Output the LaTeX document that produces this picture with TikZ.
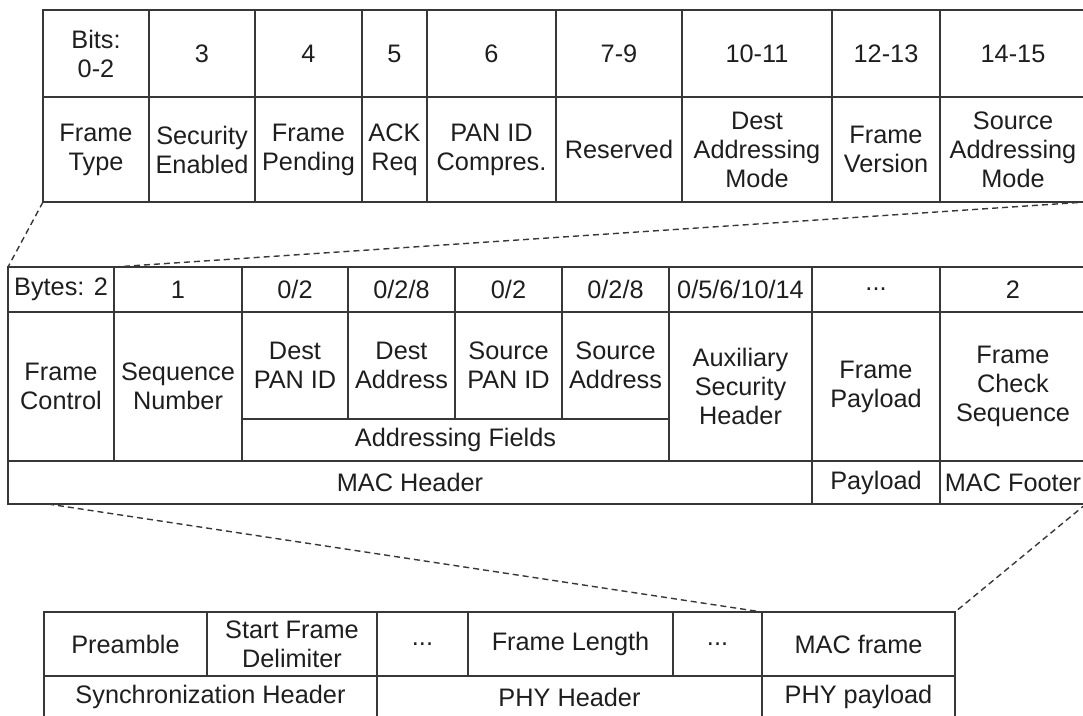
\documentclass[tikz,border=0pt]{standalone}
\usepackage{fontspec}
\setmainfont{Liberation Sans}
\usepackage{tikz}
\definecolor{linegray}{RGB}{55, 55, 55}
\definecolor{textdark}{RGB}{30, 30, 30}
\tikzset{
    field/.style={draw=linegray, line width=1.6pt, rectangle, inner sep=0pt, outer sep=0pt, align=center, text=textdark, font=\fontsize{25.3}{29}\selectfont},
    zoomline/.style={draw=linegray, line width=1.4pt, dash pattern=on 6pt off 4pt},
}

\begin{document}
\begin{tikzpicture}[x=1pt, y=-1pt]
    \useasboundingbox (0,0) rectangle (1083,715);
    \clip (0,0) rectangle (1083,715);

    % Frame control: bit numbers
    \node[field, minimum width=106, minimum height=87] (bit02) at (96,53.5) {Bits:\\0-2};
    \node[field, minimum width=106, minimum height=87] (bit3) at (202,53.5) {3};
    \node[field, minimum width=107, minimum height=87] (bit4) at (308.5,53.5) {4};
    \node[field, minimum width=65, minimum height=87] (bit5) at (394.5,53.5) {5};
    \node[field, minimum width=129, minimum height=87] (bit6) at (491.5,53.5) {6};
    \node[field, minimum width=126, minimum height=87] (bit79) at (619,53.5) {7-9};
    \node[field, minimum width=150, minimum height=87] (bit1011) at (757,53.5) {10-11};
    \node[field, minimum width=108, minimum height=87] (bit1213) at (886,53.5) {12-13};
    \node[field, minimum width=146, minimum height=87] (bit1415) at (1013,53.5) {14-15};

    % Frame control: subfields
    \node[field, minimum width=106, minimum height=105] (ftype) at (96,149.5) {Frame\\Type};
    \node[field, minimum width=106, minimum height=105] (secen) at (202,149.5) {Security\\Enabled};
    \node[field, minimum width=107, minimum height=105] (fpend) at (308.5,149.5) {Frame\\Pending};
    \node[field, minimum width=65, minimum height=105] (ackreq) at (394.5,149.5) {ACK\\Req};
    \node[field, minimum width=129, minimum height=105] (panc) at (491.5,149.5) {PAN ID\\Compres.};
    \node[field, minimum width=126, minimum height=105] (resvd) at (619,149.5) {Reserved};
    \node[field, minimum width=150, minimum height=105] (dmode) at (757,149.5) {Dest\\Addressing\\Mode};
    \node[field, minimum width=108, minimum height=105] (fver) at (886,149.5) {Frame\\Version};
    \node[field, minimum width=146, minimum height=105] (smode) at (1013,149.5) {Source\\Addressing\\Mode};

    % MAC frame: byte counts
    \node[field, minimum width=106, minimum height=45] (by2) at (61,289.5) {Bytes: 2};
    \node[field, minimum width=128, minimum height=45] (by1) at (178,289.5) {1};
    \node[field, minimum width=106, minimum height=45] (bydpan) at (295,289.5) {0/2};
    \node[field, minimum width=107, minimum height=45] (bydaddr) at (401.5,289.5) {0/2/8};
    \node[field, minimum width=107, minimum height=45] (byspan) at (508.5,289.5) {0/2};
    \node[field, minimum width=107, minimum height=45] (bysaddr) at (615.5,289.5) {0/2/8};
    \node[field, minimum width=143, minimum height=45] (byaux) at (740.5,289.5) {0/5/6/10/14};
    \node[field, minimum width=128, minimum height=45] (bypay) at (876,289.5) {...};
    \node[field, minimum width=146, minimum height=45] (byfcs) at (1013,289.5) {2};

    % MAC frame: fields
    \node[field, minimum width=106, minimum height=149] (fctrl) at (61,386.5) {Frame\\Control};
    \node[field, minimum width=128, minimum height=149] (seqnum) at (178,386.5) {Sequence\\Number};
    \node[field, minimum width=106, minimum height=107] (dpan) at (295,365.5) {Dest\\PAN ID};
    \node[field, minimum width=107, minimum height=107] (daddr) at (401.5,365.5) {Dest\\Address};
    \node[field, minimum width=107, minimum height=107] (span) at (508.5,365.5) {Source\\PAN ID};
    \node[field, minimum width=107, minimum height=107] (saddr) at (615.5,365.5) {Source\\Address};
    \node[field, minimum width=427, minimum height=42] (addrf) at (455.5,440) {Addressing Fields};
    \node[field, minimum width=143, minimum height=149] (auxsec) at (740.5,386.5) {Auxiliary\\Security\\Header};
    \node[field, minimum width=128, minimum height=149] (fpay) at (876,386.5) {Frame\\Payload};
    \node[field, minimum width=146, minimum height=149] (fcs) at (1013,386.5) {Frame\\Check\\Sequence};

    % MAC frame: parts
    \node[field, minimum width=804, minimum height=43] (machdr) at (410,482.5) {MAC Header};
    \node[field, minimum width=128, minimum height=43] (payl) at (876,482.5) {Payload};
    \node[field, minimum width=146, minimum height=43] (macftr) at (1013,482.5) {MAC Footer};

    % PHY frame
    \node[field, minimum width=163, minimum height=64] (pre) at (125.5,644) {Preamble};
    \node[field, minimum width=170, minimum height=64] (sfd) at (292,644) {Start Frame\\Delimiter};
    \node[field, minimum width=91, minimum height=64] (phdotsA) at (422.5,644) {...};
    \node[field, minimum width=205, minimum height=64] (flen) at (570.5,644) {Frame Length};
    \node[field, minimum width=89, minimum height=64] (phdotsB) at (717.5,644) {...};
    \node[field, minimum width=193, minimum height=64] (macfr) at (858.5,644) {MAC frame};
    \node[field, minimum width=333, minimum height=42] (synchdr) at (210.5,697) {Synchronization Header};
    \node[field, minimum width=385, minimum height=42] (phyhdr) at (569.5,697) {PHY Header};
    \node[field, minimum width=193, minimum height=42] (phypay) at (858.5,697) {PHY payload};

    % zoom lines
    \draw[zoomline] (ftype.south west) -- (by2.north west);
    \draw[zoomline] (by1.north west) -- (smode.south east);
    \draw[zoomline] ([xshift=40pt]machdr.south west) -- (macfr.north west);
    \draw[zoomline] (macftr.south east) -- (macfr.north east);
\end{tikzpicture}
\end{document}
